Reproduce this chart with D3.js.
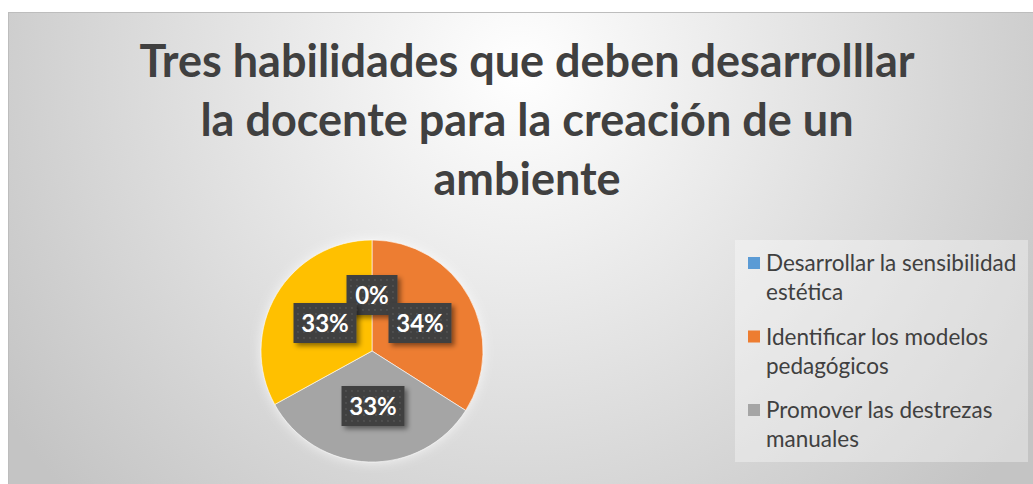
<!DOCTYPE html>
<html>
<head>
<meta charset="utf-8">
<script src="https://cdn.jsdelivr.net/npm/d3@7/dist/d3.min.js"></script>
<style>
  body { margin: 0; background: #fff; }
  svg { display: block; }
</style>
</head>
<body>
<svg id="chart" width="1033" height="484"></svg>
<script>
// chart values
const categories = [
  "Desarrollar la sensibilidad estética",
  "Identificar los modelos pedagógicos",
  "Promover las destrezas manuales",
  "Otro"
];
const legendLines = [
  ["Desarrollar la sensibilidad", "estética"],
  ["Identificar los modelos", "pedagógicos"],
  ["Promover las destrezas", "manuales"]
];
const values = [0, 34, 33, 33];
const labels = ["0%", "34%", "33%", "33%"];
const colors = ["#5b9bd5", "#ed7d31", "#a5a5a5", "#ffc000"];
const titleLines = [
  "Tres habilidades que deben desarrolllar",
  "la docente para la creación de un",
  "ambiente"
];

const svg = d3.select("#chart");
const defs = svg.append("defs");

// background gradient like the office style
const bg = defs.append("radialGradient").attr("id", "bg")
  .attr("gradientUnits", "userSpaceOnUse")
  .attr("cx", 520).attr("cy", 70).attr("r", 620);
bg.append("stop").attr("offset", 0).attr("stop-color", "#ffffff");
bg.append("stop").attr("offset", 1).attr("stop-color", "#c4c4c4");

const pat = defs.append("pattern").attr("id", "dots")
  .attr("width", 6).attr("height", 6).attr("patternUnits", "userSpaceOnUse");
pat.append("rect").attr("width", 6).attr("height", 6).attr("fill", "#404040");
pat.append("circle").attr("cx", 3).attr("cy", 3).attr("r", 0.9).attr("fill", "#555");

const sh = defs.append("filter").attr("id", "shadow")
  .attr("x", "-30%").attr("y", "-30%").attr("width", "160%").attr("height", "160%");
sh.append("feDropShadow").attr("dx", 3).attr("dy", 3).attr("stdDeviation", 2.5)
  .attr("flood-color", "#000").attr("flood-opacity", 0.45);

const pieShadow = defs.append("filter").attr("id", "pieglow")
  .attr("x", "-20%").attr("y", "-20%").attr("width", "140%").attr("height", "140%");
pieShadow.append("feGaussianBlur").attr("in", "SourceAlpha").attr("stdDeviation", 6).attr("result", "b");
pieShadow.append("feFlood").attr("flood-color", "#fff").attr("flood-opacity", 0.7);
pieShadow.append("feComposite").attr("in2", "b").attr("operator", "in").attr("result", "g");
const pm = pieShadow.append("feMerge");
pm.append("feMergeNode").attr("in", "g");
pm.append("feMergeNode").attr("in", "SourceGraphic");

svg.append("rect").attr("x", 8.5).attr("y", 12.5).attr("width", 1030).attr("height", 480)
  .attr("fill", "url(#bg)").attr("stroke", "#bdbdbd");

// title
svg.append("g").selectAll("text").data(titleLines).join("text")
  .attr("x", 527).attr("y", (d, i) => 77 + i * 59)
  .attr("text-anchor", "middle")
  .attr("font-family", "Lato, 'Open Sans', sans-serif")
  .attr("font-weight", "bold").attr("font-size", 45)
  .attr("fill", "#404040").text(d => d);

// pie
const cx = 372, cy = 351, radius = 111;
const pie = d3.pie().sort(null).value(d => d);
const arcs = pie(values);
const arc = d3.arc().innerRadius(0).outerRadius(radius);

const g = svg.append("g").attr("transform", `translate(${cx},${cy})`);
g.append("g").attr("filter", "url(#pieglow)")
  .selectAll("path").data(arcs).join("path")
  .attr("d", arc).attr("fill", (d, i) => colors[i])
  .attr("stroke", "#fff").attr("stroke-width", 0.6);

// data labels: Excel nudged these, so positions are set per label
const labelPos = [
  { x: 0, y: -56, t: labels[0] },
  { x: 48, y: -28, t: labels[1] },
  { x: 1, y: 55, t: labels[2] },
  { x: -47, y: -28, t: labels[3] }
];

const lg = g.append("g").selectAll("g").data(labelPos).join("g")
  .attr("transform", d => `translate(${d.x},${d.y})`);
lg.append("rect")
  .attr("x", d => d.t.length > 2 ? -31.5 : -25.5)
  .attr("width", d => d.t.length > 2 ? 63 : 51)
  .attr("y", -20).attr("height", 40)
  .attr("fill", "url(#dots)").attr("filter", "url(#shadow)");
lg.append("text")
  .attr("text-anchor", "middle").attr("dy", "0.36em")
  .attr("font-family", "Lato, 'Open Sans', sans-serif")
  .attr("font-weight", "bold").attr("font-size", 24)
  .attr("fill", "#fff").text(d => d.t);

// legend
svg.append("rect").attr("x", 735).attr("y", 240).attr("width", 293).attr("height", 222)
  .attr("fill", "#fff").attr("fill-opacity", 0.35);
const leg = svg.append("g").selectAll("g").data(legendLines).join("g")
  .attr("transform", (d, i) => `translate(748,${263 + i * 73.5})`);
leg.append("rect").attr("x", 0).attr("y", -6).attr("width", 12).attr("height", 12)
  .attr("fill", (d, i) => colors[i]);
leg.selectAll("text").data(d => d).join("text")
  .attr("x", 18).attr("y", (d, i) => 8 + i * 29)
  .attr("font-family", "Lato, 'Open Sans', sans-serif")
  .attr("font-size", 22.5).attr("fill", "#404040").text(d => d);
</script>
</body>
</html>
